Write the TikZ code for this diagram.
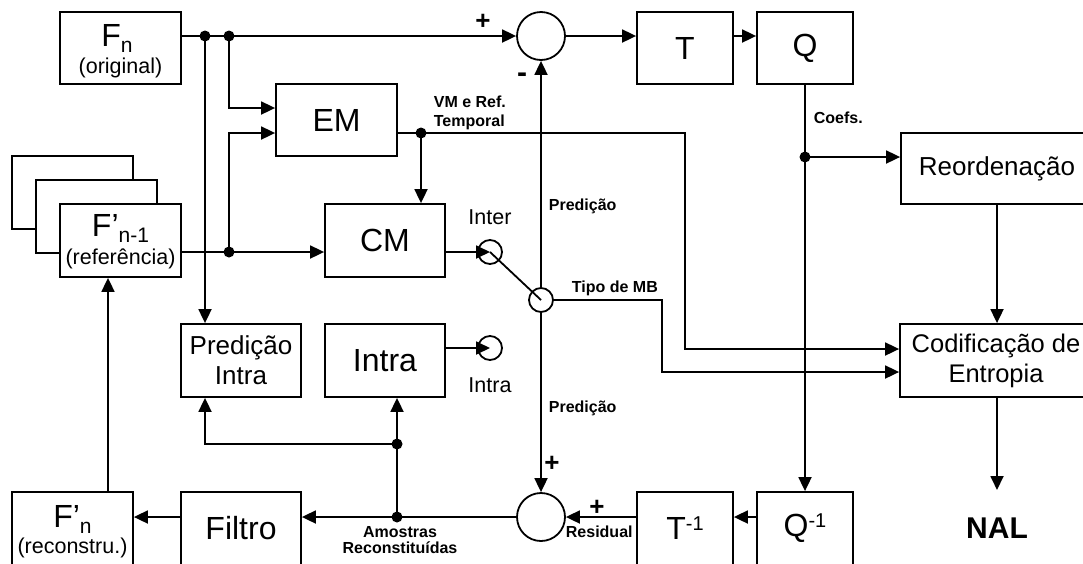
\documentclass[tikz,border=0pt]{standalone}
\usepackage{fontspec}
\setmainfont{Liberation Sans}
\usetikzlibrary{arrows.meta,calc}
\newcommand{\fsz}[1]{\fontsize{#1}{#1}\selectfont}
\newcommand{\subn}[1]{\raisebox{-6pt}{\fsz{21}#1}}
\newcommand{\supm}[1]{\raisebox{9pt}{\fsz{20}#1}}
\begin{document}
\begin{tikzpicture}[x=1pt,y=-1pt,line width=1.8pt,
  blk/.style={draw,fill=white,inner sep=0pt,minimum height=73pt,font=\fsz{32}},
  sumc/.style={draw,circle,inner sep=0pt,minimum size=48pt},
  swc/.style={draw,circle,inner sep=0pt,minimum size=24pt},
  jdot/.style={circle,fill=black,inner sep=0pt,minimum size=11pt},
  arr/.style={-{Triangle[length=14pt,width=13pt]}},
  lbl/.style={font=\bfseries\fsz{16},inner sep=0pt},
  subt/.style={font=\fsz{21.5},inner sep=0pt,anchor=base},
  mtxt/.style={font=\fsz{32},inner sep=0pt,anchor=base},
  pm/.style={font=\bfseries\fsz{26},inner sep=0pt}]
\useasboundingbox (0,0) rectangle (1083,563);
\clip (0,0) rectangle (1083,563);
\fill[white] (0,0) rectangle (1083,563);

% stacked reference frames
\draw[fill=white] (12,156) rectangle (133,229);
\draw[fill=white] (36,180) rectangle (157,253);

% boxes
\node[blk,minimum width=121pt,minimum height=72pt] (Fn) at (120.5,48) {};
\node[mtxt] (Fnt) at (117,46) {F\subn{n}};
\node[subt] (Fno) at (120.5,73) {(original)};

\node[blk,minimum width=121pt] (Fm1) at (120.5,240.5) {};
\node[mtxt] (Fm1t) at (120.5,236) {F’\subn{n-1}};
\node[subt] (Fm1o) at (120.5,264) {(referência)};

\node[blk,minimum width=121pt,minimum height=72pt] (EM) at (336.5,120) {EM};
\node[blk,minimum width=96pt,minimum height=72pt] (T) at (685,48) {T};
\node[blk,minimum width=96pt,minimum height=72pt] (Q) at (805,48) {Q};
\node[blk,minimum width=192pt,minimum height=71pt,font=\fsz{26}] (Reord) at (997,168.5) {Reordenação};
\node[blk,minimum width=120pt] (CM) at (385,240.5) {CM};
\node[blk,minimum width=120pt,align=center,font={\fontsize{26}{30}\selectfont}] (PI) at (241,360.5) {Predição\\Intra};
\node[blk,minimum width=120pt] (Intra) at (385,360.5) {Intra};
\node[blk,minimum width=192pt,align=center,font={\fontsize{25.5}{30}\selectfont}] (Cod) at (996,360.5) {Codificação de\\Entropia};

\node[blk,minimum width=121pt] (Fnp) at (72.5,528.5) {};
\node[mtxt] (Fnpt) at (72.5,527) {F’\subn{n}};
\node[subt] (Fnpo) at (72.5,553) {(reconstru.)};
\node[blk,minimum width=120pt] (Filtro) at (241,528.5) {Filtro};
\node[blk,minimum width=96pt] (Ti) at (685,528.5) {T\supm{-1}};
\node[blk,minimum width=96pt] (Qi) at (805,528.5) {Q\supm{-1}};
\node[font=\bfseries\fsz{30},inner sep=0pt,anchor=base] (NAL) at (997,538) {NAL};

% circles
\node[sumc] (st) at (541,36) {};
\node[sumc] (sb) at (541,517) {};
\node[swc] (si) at (490,252) {};
\node[swc] (sa) at (490,348) {};
\node[swc] (sm) at (541,300) {};

% coordinates
\coordinate (d1) at (205,36);
\coordinate (d2) at (229,36);
\coordinate (e1) at (229,108);
\coordinate (d3) at (229,252);
\coordinate (e2) at (229,133);
\coordinate (d4) at (421,133);
\coordinate (c1) at (685,133);
\coordinate (c2) at (685,349);
\coordinate (t1) at (662,300);
\coordinate (t2) at (662,372);
\coordinate (dq) at (805,157);
\coordinate (d5) at (397,517);
\coordinate (d6) at (397,444);
\coordinate (b1) at (205,444);
\coordinate (r1) at (0,517);
\coordinate (f1) at (108,0);
\coordinate (x1) at (997,0);
\coordinate (nalin) at (997,490);

% connectors
\draw (Fn.east |- d1) -- (d2);
\draw[arr] (d2) -- (st.west);
\draw[arr] (d1) -- (d1 |- PI.north);
\draw[arr] (d2) -- (e1) -- (e1 -| EM.west);
\draw[arr] (Fm1.east |- d3) -- (d3 -| CM.west);
\draw[arr] (d3) -- (e2) -- (e2 -| EM.west);
\draw[arr] (EM.east |- d4) -- (c1) -- (c2) -- (c2 -| Cod.west);
\draw[arr] (d4) -- (d4 |- CM.north);
\draw[arr] (CM.east |- si) -- (si.center);
\draw (si.center) -- (sm.center);
\draw[arr] (sm.north) -- (st.south);
\draw[arr] (sm.south) -- (sb.north);
\draw[arr] (sm.east) -- (t1) -- (t2) -- (t2 -| Cod.west);
\draw[arr] (Intra.east |- sa) -- (sa.center);
\draw[arr] (st.east) -- (st.east -| T.west);
\draw[arr] (T.east |- st) -- (Q.west |- st);
\draw[arr] (Q.south) -- (Qi.north);
\draw[arr] (dq) -- (dq -| Reord.west);
\draw[arr] (Reord.south) -- (x1 |- Cod.north);
\draw[arr] (x1 |- Cod.south) -- (nalin);
\draw[arr] (Qi.west |- r1) -- (Ti.east |- r1);
\draw[arr] (Ti.west |- r1) -- (sb.east);
\draw[arr] (sb.west) -- (Filtro.east |- r1);
\draw[arr] (Filtro.west |- r1) -- (Fnp.east |- r1);
\draw[arr] (d5) -- (d6) -- (d6 |- Intra.south);
\draw[arr] (d6) -- (b1) -- (b1 |- PI.south);
\draw[arr] (f1 |- Fnp.north) -- (f1 |- Fm1.south);

% junction dots
\node[jdot] (D1) at (d1) {};
\node[jdot] (D2) at (d2) {};
\node[jdot] (D3) at (d3) {};
\node[jdot] (D4) at (d4) {};
\node[jdot] (DQ) at (dq) {};
\node[jdot] (D5) at (d5) {};
\node[jdot] (D6) at (d6) {};

% labels
\node[pm] (p1) at (483,22) {+};
\node[pm,font=\bfseries\fsz{30}] (m1) at (522,78) {-};
\node[lbl,anchor=base west] (vm1) at (433,107) {VM e Ref.};
\node[lbl,anchor=base west] (vm2) at (433,126) {Temporal};
\node[lbl,anchor=base west] (coef) at (813,123) {Coefs.};
\node[lbl,anchor=base west] (pr1) at (548,210) {Predição};
\node[font=\fsz{21.5},inner sep=0pt,anchor=base] (inter) at (490,224) {Inter};
\node[lbl,anchor=base west] (tipo) at (571,292) {Tipo de MB};
\node[font=\fsz{21.5},inner sep=0pt,anchor=base] (intral) at (490,392) {Intra};
\node[lbl,anchor=base west] (pr2) at (548,412) {Predição};
\node[pm] (p2) at (552,464) {+};
\node[pm] (p3) at (597,508) {+};
\node[lbl,anchor=base west] (res) at (565,537) {Residual};
\node[lbl,anchor=base] (am1) at (400,537) {Amostras};
\node[lbl,anchor=base] (am2) at (400,553) {Reconstituídas};
\end{tikzpicture}
\end{document}
